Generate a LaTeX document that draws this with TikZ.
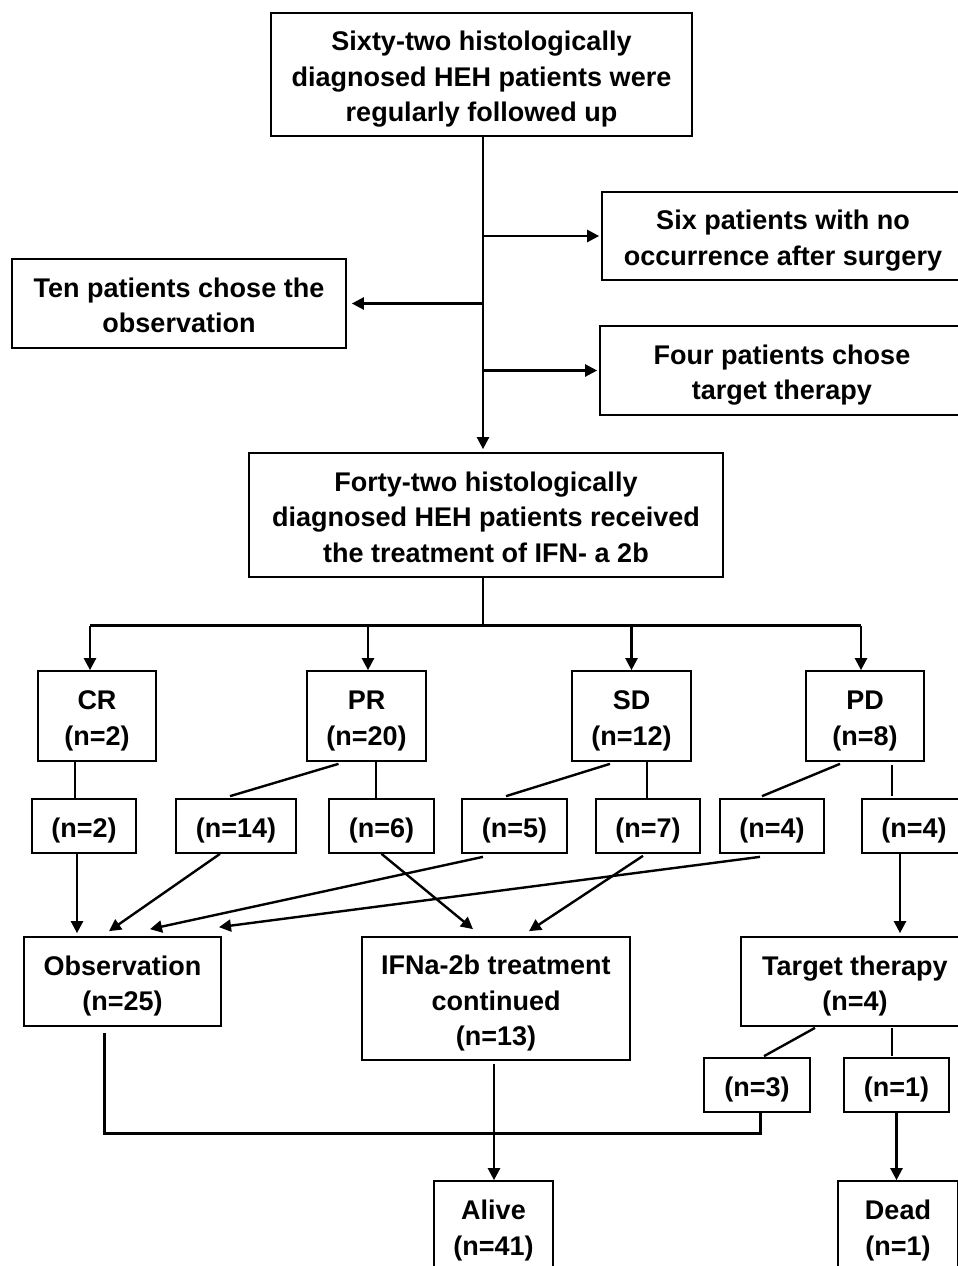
\documentclass[tikz,border=0pt]{standalone}
\usepackage{fontspec}
\setmainfont{Liberation Sans}
\usetikzlibrary{arrows.meta}
\newcommand{\bxt}[1]{\raisebox{-4.6pt}[\height][\depth]{\begin{tabular}{@{}c@{}}#1\end{tabular}}}
\begin{document}
\begin{tikzpicture}[x=1pt,y=-1pt,
  box/.style={draw, line width=1.7pt, inner sep=0pt,
    font=\fontsize{27}{35.5}\selectfont\bfseries},
  conn/.style={line width=2.4pt},
  arr/.style={line width=2.4pt, -{Triangle[length=12pt,width=12pt]}},
  bus/.style={line width=3pt}]
\useasboundingbox (0,0) rectangle (958,1266);
% boxes
\node[box, minimum width=421, minimum height=123] (top) at (481.5,74.5)
  {\bxt{Sixty-two histologically\\diagnosed HEH patients were\\regularly followed up}};
\node[box, minimum width=362, minimum height=88] (six) at (783,236)
  {\bxt{Six patients with no\\occurrence after surgery}};
\node[box, minimum width=334, minimum height=89] (ten) at (179,303.5)
  {\bxt{Ten patients chose the\\observation}};
\node[box, minimum width=364, minimum height=89] (four) at (782,370.5)
  {\bxt{Four patients chose\\target therapy}};
\node[box, minimum width=474, minimum height=124] (ft) at (486,515)
  {\bxt{Forty-two histologically\\diagnosed HEH patients received\\the treatment of IFN- a 2b}};
\node[box, minimum width=118, minimum height=90] (CR) at (97,716) {\bxt{CR\\(n=2)}};
\node[box, minimum width=119, minimum height=90] (PR) at (366.5,716) {\bxt{PR\\(n=20)}};
\node[box, minimum width=119, minimum height=90] (SD) at (631.5,716) {\bxt{SD\\(n=12)}};
\node[box, minimum width=118, minimum height=90] (PD) at (865,716) {\bxt{PD\\(n=8)}};
\node[box, minimum width=104, minimum height=54] (a2) at (84,826) {\bxt{(n=2)}};
\node[box, minimum width=120, minimum height=54] (a14) at (236,826) {\bxt{(n=14)}};
\node[box, minimum width=105, minimum height=54] (a6) at (381.5,826) {\bxt{(n=6)}};
\node[box, minimum width=105, minimum height=54] (a5) at (514.5,826) {\bxt{(n=5)}};
\node[box, minimum width=104, minimum height=54] (a7) at (648,826) {\bxt{(n=7)}};
\node[box, minimum width=104, minimum height=54] (a4) at (772,826) {\bxt{(n=4)}};
\node[box, minimum width=104, minimum height=54] (b4) at (914,826) {\bxt{(n=4)}};
\node[box, minimum width=197, minimum height=89] (obs) at (122.5,981.5) {\bxt{Observation\\(n=25)}};
\node[box, minimum width=268, minimum height=123] (ifn) at (496,998.5) {\bxt{IFNa-2b treatment\\continued\\(n=13)}};
\node[box, minimum width=228, minimum height=89] (tt) at (855,981.5) {\bxt{Target therapy\\(n=4)}};
\node[box, minimum width=106, minimum height=54] (n3) at (757,1085) {\bxt{(n=3)}};
\node[box, minimum width=105, minimum height=54] (n1) at (896.5,1085) {\bxt{(n=1)}};
\node[box, minimum width=119, minimum height=90] (alive) at (493.5,1226) {\bxt{Alive\\(n=41)}};
\node[box, minimum width=120, minimum height=90] (dead) at (898,1226) {\bxt{Dead\\(n=1)}};
% trunk
\coordinate (tr) at ([xshift=1.5pt]top.south);
\draw[arr] (tr) -- ([yshift=3pt]tr |- ft.north);
\draw[arr] (tr |- six.west) -- ([xshift=-2pt]six.west);
\draw[arr] (tr |- ten.east) -- ([xshift=5pt]ten.east);
\draw[arr] (tr |- four.west) -- ([xshift=-2pt]four.west);
% bus
\coordinate (fb) at ([xshift=-3pt]ft.south);
\draw[conn] (fb) -- ++(0,48) coordinate (bs);
\coordinate (cA) at ([xshift=-7pt]CR.north);
\coordinate (cD) at ([xshift=-4pt]PD.north);
\draw[bus] (cA |- bs) -- (cD |- bs);
\draw[arr] (cA |- bs) -- (cA);
\draw[arr] ([xshift=1.5pt]PR.north |- bs) -- ([xshift=1.5pt]PR.north);
\draw[arr] (SD.north |- bs) -- (SD.north);
\draw[arr] (cD |- bs) -- (cD);
% second row
\draw[conn] ([xshift=-22pt]CR.south) -- ([xshift=-22pt]CR.south |- a2.north);
\draw[conn] ([xshift=-28pt,yshift=-2pt]PR.south) -- ([xshift=-6pt,yshift=2pt]a14.north);
\draw[conn] ([xshift=9.5pt]PR.south) -- ([xshift=9.5pt]PR.south |- a6.north);
\draw[conn] ([xshift=-21.5pt,yshift=-2pt]SD.south) -- ([xshift=-8.5pt,yshift=2pt]a5.north);
\draw[conn] ([xshift=15.5pt]SD.south) -- ([xshift=15.5pt]SD.south |- a7.north);
\draw[conn] ([xshift=-25pt,yshift=-2pt]PD.south) -- ([xshift=-10pt,yshift=2pt]a4.north);
\draw[conn] ([xshift=27pt,yshift=-3pt]PD.south) -- ([xshift=27pt,yshift=2pt]PD.south |- b4.north);
% to third row
\draw[arr] ([xshift=-7pt]a2.south) -- ([xshift=-7pt,yshift=3pt]a2.south |- obs.north);
\draw[arr] ([xshift=-16pt]a14.south) -- ([xshift=-13.5pt,yshift=5pt]obs.north);
\draw[arr] ([xshift=-31.5pt,yshift=-3pt]a5.south) -- ([xshift=27.5pt,yshift=7pt]obs.north);
\draw[arr] ([xshift=-12pt,yshift=-3pt]a4.south) -- ([xshift=96.5pt,yshift=9pt]obs.north);
\draw[arr] (a6.south) -- ([xshift=-23pt,yshift=7pt]ifn.north);
\draw[arr] ([xshift=-5pt,yshift=-2pt]a7.south) -- ([xshift=33pt,yshift=5pt]ifn.north);
\draw[arr] ([xshift=-14pt]b4.south) -- ([xshift=-14pt,yshift=3pt]b4.south |- tt.north);
% target therapy split
\draw[conn] ([xshift=-40pt,yshift=-1pt]tt.south) -- ([xshift=7pt,yshift=1pt]n3.north);
\draw[conn] ([xshift=37pt,yshift=-1pt]tt.south) -- ([xshift=37pt,yshift=1pt]tt.south |- n1.north);
% bottom
\coordinate (ob) at ([xshift=-18.5pt,yshift=-6pt]obs.south);
\coordinate (n3b) at ([xshift=3pt]n3.south);
\draw[bus] (ob) -- (ob |- 0,1133) -| (n3b);
\draw[arr] ([xshift=-2pt,yshift=-3pt]ifn.south) -- ([xshift=-2pt]ifn.south |- alive.north);
\draw[arr] (n1.south) -- (n1.south |- dead.north);
\end{tikzpicture}
\end{document}
